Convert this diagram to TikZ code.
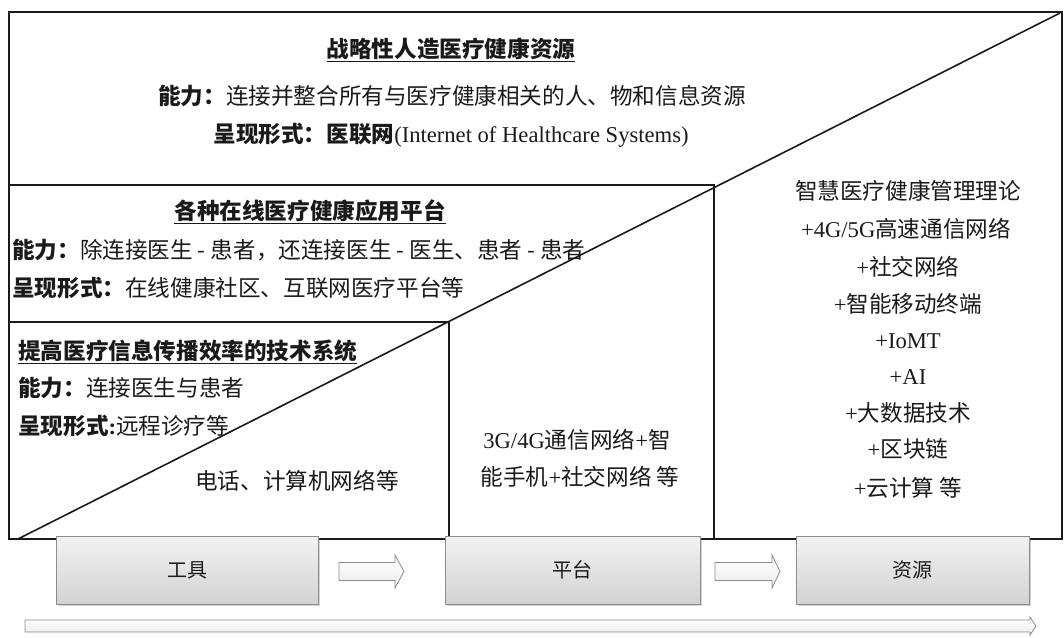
\documentclass[tikz,border=0pt]{standalone}
\usepackage{fontspec}
\setmainfont{Noto Sans CJK SC}
\newfontfamily\lat{Liberation Serif}
\usetikzlibrary{shadows}
\definecolor{ink}{HTML}{1A1A1A}
\definecolor{edge}{HTML}{8C8C8C}
\newcommand{\hyp}{\kern5pt-\kern5pt}
\tikzset{
  frame/.style={draw=ink, line width=1.6pt, line join=miter},
  txt/.style={inner sep=0pt, text=ink, font=\fontsize{22.6}{26}\selectfont},
  lefttxt/.style={txt, anchor=west},
  stage/.style={draw=edge, line width=0.8pt, top color=gray!10, bottom color=gray!35,
    drop shadow={shadow xshift=2pt, shadow yshift=-2pt, opacity=0.35},
    minimum height=68pt, inner sep=0pt, text=ink, font=\fontsize{20}{24}\selectfont},
  blockarrow/.style={draw=edge, line width=0.8pt, top color=white, bottom color=gray!15},
}
\begin{document}
\begin{tikzpicture}[x=1pt,y=-1pt]
\useasboundingbox (0,0) rectangle (1064,637);
% frame coordinates
\coordinate (tl) at (9,12);
\coordinate (br) at (1062,539);
\coordinate (mA) at (9,185);
\coordinate (mB) at (714,185);
\coordinate (mC) at (714,539);
\coordinate (sA) at (9,322);
\coordinate (sB) at (449,322);
\coordinate (sC) at (449,539);
\coordinate (dA) at (18,539);
\coordinate (dB) at (1060,13);
\draw[frame] (tl) rectangle (br);
\draw[frame] (mA) -- (mB) -- (mC);
\draw[frame] (sA) -- (sB) -- (sC);
\draw[frame] (dA) -- (dB);

% top region
\node[txt] (t1) at (451,50) {\bfseries\underline{战略性人造医疗健康资源}};
\node[txt] (t1a) at (452,96) {\textbf{能力：}连接并整合所有与医疗健康相关的人、物和信息资源};
\node[txt] (t1b) at (451,135) {\textbf{呈现形式：医联网}{\lat (Internet of Healthcare Systems)}};

% middle region
\node[txt] (t2) at (310,212) {\bfseries\underline{各种在线医疗健康应用平台}};
\node[lefttxt] (t2a) at (12,250) {\textbf{能力：}除连接医生\hyp 患者，还连接医生\hyp 医生、患者\hyp 患者};
\node[lefttxt] (t2b) at (12,288) {\textbf{呈现形式：}在线健康社区、互联网医疗平台等};

% small region
\node[lefttxt] (t3) at (18,352) {\bfseries\underline{提高医疗信息传播效率的技术系统}};
\node[lefttxt] (t3a) at (18,388) {\textbf{能力：}连接医生与患者};
\node[lefttxt] (t3b) at (18,426) {\textbf{呈现形式{\lat :}}远程诊疗等};
\node[txt] (t3c) at (297,481) {电话、计算机网络等};

% platform column
\node[txt] (t4a) at (577,440) {{\lat 3G/4G}通信网络{\lat +}智};
\node[txt] (t4b) at (580,477) {能手机{\lat +}社交网络 等};

% resource column
\node[txt] (r1) at (908,191) {智慧医疗健康管理理论};
\node[txt] (r2) at (906,229) {{\lat +4G/5G}高速通信网络};
\node[txt] (r3) at (908,267) {{\lat +}社交网络};
\node[txt] (r4) at (908,304) {{\lat +}智能移动终端};
\node[txt] (r5) at (908,341) {\lat +IoMT};
\node[txt] (r6) at (908,377) {\lat +AI};
\node[txt] (r7) at (908,413) {{\lat +}大数据技术};
\node[txt] (r8) at (908,449) {{\lat +}区块链};
\node[txt] (r9) at (908,488) {{\lat +}云计算 等};

% stage boxes
\node[stage, minimum width=262pt] (tool) at (187,570) {工具};
\node[stage, minimum width=255pt] (plat) at (572.5,570) {平台};
\node[stage, minimum width=233pt] (res) at (912.5,570) {资源};

% block arrows between stages
\coordinate (a1) at (339,571.5);
\coordinate (a2) at (715,571.5);
\draw[blockarrow] (a1) +(0,-9) -- +(56,-9) -- +(56,-16.5) -- +(65,0) -- +(56,16.5) -- +(56,9) -- +(0,9) -- cycle;
\draw[blockarrow] (a2) +(0,-9) -- +(57,-9) -- +(57,-16.5) -- +(65,0) -- +(57,16.5) -- +(57,9) -- +(0,9) -- cycle;

% long arrow
\coordinate (L) at (25,626);
\draw[blockarrow] (L) +(0,-6) -- +(1005,-6) -- +(1005,-9) -- +(1011,0) -- +(1005,9) -- +(1005,6) -- +(0,6) -- cycle;
\end{tikzpicture}
\end{document}
